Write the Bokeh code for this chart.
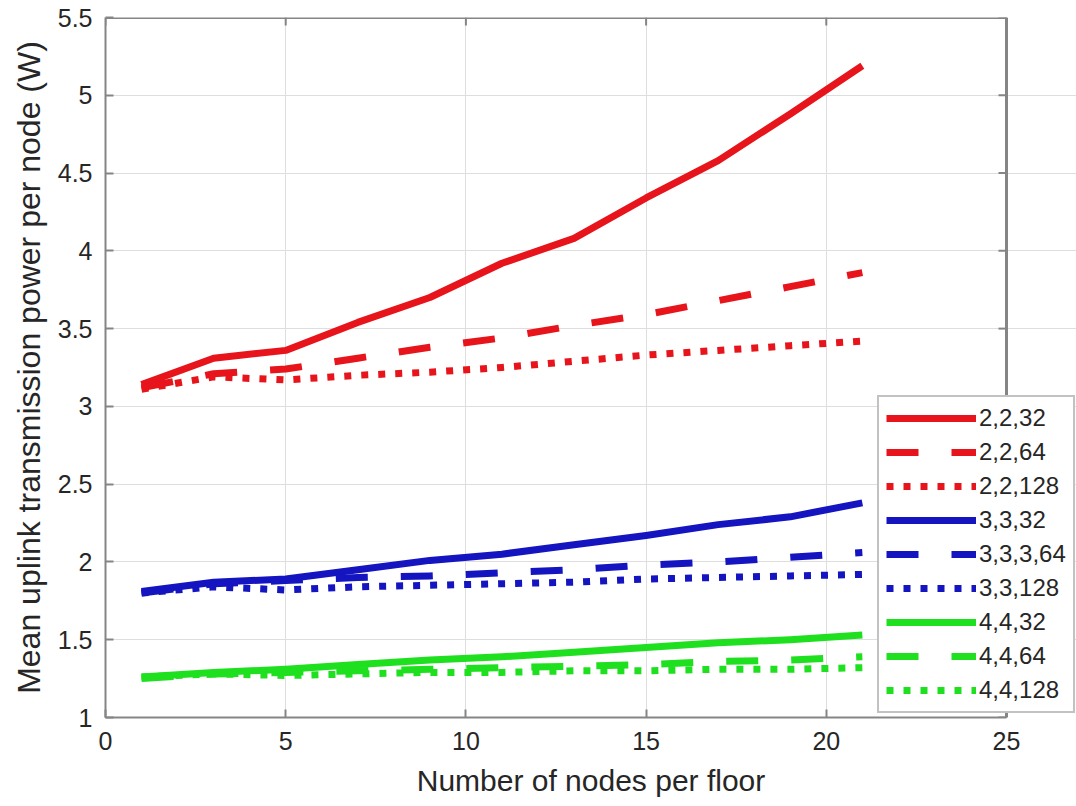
from bokeh.plotting import figure
from bokeh.models import Range1d, FixedTicker, Legend, LegendItem
from bokeh.embed import file_html
from bokeh.resources import INLINE

# ---- data ----
nodes = [1, 3, 5, 7, 9, 11, 13, 15, 17, 19, 21]
labels = ["2,2,32", "2,2,64", "2,2,128",
          "3,3,32", "3,3,3,64", "3,3,128",
          "4,4,32", "4,4,64", "4,4,128"]
p_2_2_32 = [3.14, 3.31, 3.36, 3.54, 3.70, 3.92, 4.08, 4.34, 4.58, 4.88, 5.19]
p_2_2_64 = [3.12, 3.21, 3.24, 3.31, 3.38, 3.44, 3.52, 3.59, 3.68, 3.77, 3.86]
p_2_2_128 = [3.11, 3.19, 3.17, 3.20, 3.22, 3.25, 3.29, 3.33, 3.36, 3.39, 3.42]
p_3_3_32 = [1.81, 1.87, 1.89, 1.95, 2.01, 2.05, 2.11, 2.17, 2.24, 2.29, 2.38]
p_3_3_64 = [1.80, 1.86, 1.88, 1.90, 1.91, 1.93, 1.95, 1.98, 2.00, 2.03, 2.06]
p_3_3_128 = [1.80, 1.84, 1.82, 1.84, 1.85, 1.86, 1.87, 1.89, 1.90, 1.91, 1.92]
p_4_4_32 = [1.26, 1.29, 1.31, 1.34, 1.37, 1.39, 1.42, 1.45, 1.48, 1.50, 1.53]
p_4_4_64 = [1.25, 1.28, 1.29, 1.30, 1.31, 1.32, 1.33, 1.34, 1.36, 1.37, 1.39]
p_4_4_128 = [1.26, 1.28, 1.27, 1.28, 1.29, 1.29, 1.30, 1.30, 1.31, 1.31, 1.32]
series = [p_2_2_32, p_2_2_64, p_2_2_128, p_3_3_32, p_3_3_64, p_3_3_128,
          p_4_4_32, p_4_4_64, p_4_4_128]

x_ticks = [0, 5, 10, 15, 20, 25]
y_ticks = [1, 1.5, 2, 2.5, 3, 3.5, 4, 4.5, 5, 5.5]
y_tick_labels = ["1", "1.5", "2", "2.5", "3", "3.5", "4", "4.5", "5", "5.5"]
X_MIN, X_MAX = 0, 25
Y_MIN, Y_MAX = 1, 5.5

# ---- layout / styles ----
W, H = 1076, 806
LEFT, TOP, BOTTOM = 105, 17, 89
BOX_W = 901                       # pixel width of the 0..25 box
PX_X = BOX_W / (X_MAX - X_MIN)
FRAME_W = W - LEFT
X_END = X_MIN + FRAME_W / PX_X    # frame extends right so the legend can overhang the box
PX_Y = (H - TOP - BOTTOM) / (Y_MAX - Y_MIN)
TICK = 8

RED, BLUE, GREEN = "#e8141b", "#1414c0", "#1fe01f"
colors = [RED, RED, RED, BLUE, BLUE, BLUE, GREEN, GREEN, GREEN]
dashes = ["solid", "32 33", "7 10"] * 3
FONT = "Liberation Sans"
AX = "#858585"
TXT = "#262626"

p = figure(width=W, height=H, x_range=Range1d(X_MIN, X_END), y_range=Range1d(Y_MIN, Y_MAX),
           output_backend="svg", toolbar_location=None,
           min_border_left=LEFT, min_border_right=0, min_border_top=TOP, min_border_bottom=BOTTOM)
p.outline_line_color = None
p.background_fill_color = "white"
p.border_fill_color = "white"

def style_axis(ax, ticks):
    ax.ticker = FixedTicker(ticks=ticks)
    ax.axis_line_color = AX
    ax.axis_line_width = 2
    ax.major_tick_line_color = AX
    ax.major_tick_line_width = 2
    ax.major_tick_in = TICK
    ax.major_tick_out = 0
    ax.minor_tick_line_color = None
    ax.major_label_text_font = FONT
    ax.major_label_text_color = TXT
    ax.major_label_text_font_size = "25px"
    ax.axis_label_text_font = FONT
    ax.axis_label_text_color = TXT
    ax.axis_label_text_font_style = "normal"

xa = p.xaxis[0]
style_axis(xa, x_ticks)
xa.bounds = (X_MIN, X_MAX)
xa.axis_label = "Number of nodes per floor"
xa.axis_label_text_font_size = "30px"
xa.major_label_standoff = 14
xa.axis_label_standoff = 11

ya = p.yaxis[0]
style_axis(ya, y_ticks)
ya.major_label_overrides = {v: s for v, s in zip(y_ticks, y_tick_labels)}
ya.axis_label = "Mean uplink transmission power per node (W)"
ya.axis_label_text_font_size = "32px"
ya.major_label_standoff = 13
ya.axis_label_standoff = 8

for g in (p.xgrid[0], p.ygrid[0]):
    g.grid_line_color = "#dedede"
    g.grid_line_width = 1
p.xgrid[0].ticker = FixedTicker(ticks=x_ticks)
p.ygrid[0].ticker = FixedTicker(ticks=y_ticks)
p.ygrid[0].bounds = (X_MIN, X_MAX)

# box (top and right edges) with inward ticks, MATLAB style
p.segment(x0=[X_MIN, X_MAX], y0=[Y_MAX, Y_MIN], x1=[X_MAX, X_MAX], y1=[Y_MAX, Y_MAX],
          line_color=AX, line_width=3)
p.segment(x0=x_ticks, y0=[Y_MAX] * len(x_ticks), x1=x_ticks,
          y1=[Y_MAX - TICK / PX_Y] * len(x_ticks), line_color=AX, line_width=2)
p.segment(x0=[X_MAX] * len(y_ticks), y0=y_ticks, x1=[X_MAX - TICK / PX_X] * len(y_ticks),
          y1=y_ticks, line_color=AX, line_width=2)

items = []
for lab, ys, c, d in zip(labels, series, colors, dashes):
    r = p.line(nodes, ys, line_color=c, line_width=7, line_dash=d,
               line_cap="butt", line_join="round")
    items.append(LegendItem(label=lab, renderers=[r]))

legend = Legend(items=items, location=(772, 4))
legend.margin = 0
legend.padding = 7
legend.spacing = 6
legend.glyph_width = 90
legend.glyph_height = 28
legend.label_height = 28
legend.label_standoff = 3
legend.label_text_font = FONT
legend.label_text_font_size = "24px"
legend.label_text_color = TXT
legend.border_line_color = AX
legend.border_line_width = 2
legend.background_fill_color = "white"
legend.background_fill_alpha = 1
p.add_layout(legend)

open("out.html", "w").write(file_html(p, INLINE))
